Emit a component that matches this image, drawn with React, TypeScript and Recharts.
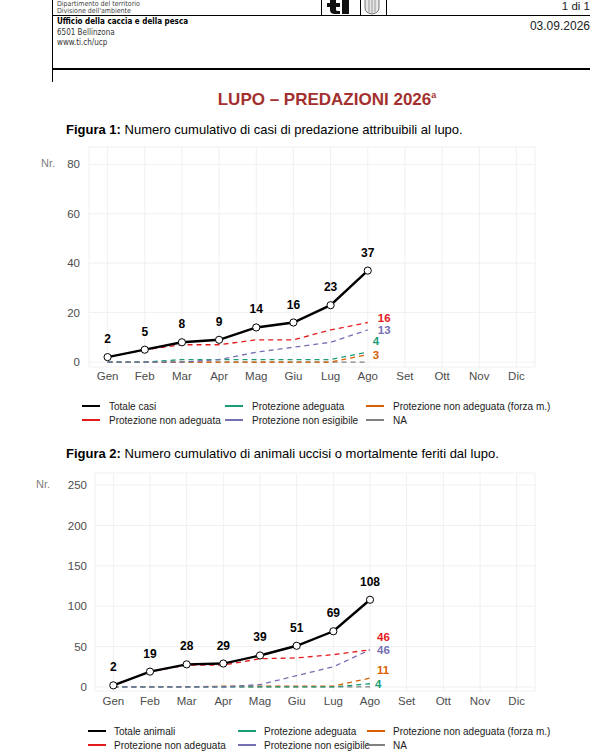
import React from "react";
import { LineChart, Line, XAxis, YAxis, CartesianGrid, LabelList } from "recharts";

const MONTHS = ["Gen", "Feb", "Mar", "Apr", "Mag", "Giu", "Lug", "Ago", "Set", "Ott", "Nov", "Dic"];

// Figura 1 – casi di predazione (cumulativo)
const CASI_TOTALE = [2, 5, 8, 9, 14, 16, 23, 37];
const CASI_NON_ADEGUATA = [2, 5, 7, 7, 9, 9, 13, 16];
const CASI_ADEGUATA = [0, 0, 1, 1, 1, 1, 1, 4];
const CASI_NON_ESIGIBILE = [0, 0, 0, 1, 4, 6, 8, 13];
const CASI_FORZA_M = [0, 0, 0, 0, 0, 0, 0, 3];
const CASI_NA = [0, 0, 0, 0, 0, 0, 0, 0];
const CASI_TICKS = [0, 20, 40, 60, 80];

// Figura 2 – animali uccisi o mortalmente feriti (cumulativo)
const ANIMALI_TOTALE = [2, 19, 28, 29, 39, 51, 69, 108];
const ANIMALI_NON_ADEGUATA = [2, 19, 27, 27, 35, 36, 40, 46];
const ANIMALI_ADEGUATA = [0, 0, 0, 0, 0, 0, 0, 4];
const ANIMALI_NON_ESIGIBILE = [0, 0, 0, 0, 3, 14, 25, 46];
const ANIMALI_FORZA_M = [0, 0, 0, 1, 1, 1, 1, 11];
const ANIMALI_NA = [0, 0, 0, 0, 0, 0, 0, 0];
const ANIMALI_TICKS = [0, 50, 100, 150, 200, 250];

const COLORS = {
  totale: "#000000",
  nonAdeguata: "#e41a1c",
  adeguata: "#1b9e77",
  forzaM: "#d95f02",
  nonEsigibile: "#7570b3",
  na: "#808080",
};

const FONT = '"Liberation Sans", Arial, sans-serif';
const NARROW = '"Liberation Sans Narrow", "DejaVu Sans Condensed", sans-serif';

type Row = Record<string, string | number | undefined>;

function buildRows(tot: number[], nonAd: number[], ad: number[], nonEs: number[], forza: number[], na: number[]): Row[] {
  return MONTHS.map((m, i) => ({
    month: m,
    totale: tot[i],
    nonAdeguata: nonAd[i],
    adeguata: ad[i],
    nonEsigibile: nonEs[i],
    forzaM: forza[i],
    na: na[i],
  }));
}

const rows1 = buildRows(CASI_TOTALE, CASI_NON_ADEGUATA, CASI_ADEGUATA, CASI_NON_ESIGIBILE, CASI_FORZA_M, CASI_NA);
const rows2 = buildRows(ANIMALI_TOTALE, ANIMALI_NON_ADEGUATA, ANIMALI_ADEGUATA, ANIMALI_NON_ESIGIBILE, ANIMALI_FORZA_M, ANIMALI_NA);

// nudges for the labels at the end of the dashed lines (repelled in the original)
type Nudge = { dx: number; dy: number };
const NUDGE_1: Record<string, Nudge> = {
  nonAdeguata: { dx: 10, dy: -5 },
  nonEsigibile: { dx: 10, dy: 0 },
  adeguata: { dx: 5, dy: -11 },
  forzaM: { dx: 5, dy: 0 },
};
const NUDGE_2: Record<string, Nudge> = {
  nonAdeguata: { dx: 7, dy: -13 },
  nonEsigibile: { dx: 7, dy: 0 },
  adeguata: { dx: 5, dy: 0 },
  forzaM: { dx: 7, dy: -8 },
};

const LAST = 7;

const totalLabel = (p: any) => {
  if (p.value == null) return null;
  return (
    <text x={p.x} y={p.y - 14} textAnchor="middle" fontFamily={FONT} fontSize={12} fontWeight="bold" fill="#000">
      {p.value}
    </text>
  );
};

const endLabel = (color: string, n: Nudge) => (p: any) => {
  if (p.index !== LAST || p.value == null) return null;
  return (
    <text x={p.x + n.dx} y={p.y + n.dy + 4} textAnchor="start" fontFamily={FONT} fontSize={11.5} fontWeight="bold" fill={color}>
      {p.value}
    </text>
  );
};

const dashedKeys: { key: keyof typeof COLORS }[] = [
  { key: "na" },
  { key: "forzaM" },
  { key: "adeguata" },
  { key: "nonEsigibile" },
  { key: "nonAdeguata" },
];

function Figure(props: {
  top: number;
  rows: Row[];
  yWidth: number;
  plotH: number;
  domain: [number, number];
  ticks: number[];
  tickMarginY: number;
  tickMarginX: number;
  nudges: Record<string, Nudge>;
}) {
  const { top, rows, yWidth, plotH, domain, ticks, tickMarginY, tickMarginX, nudges } = props;
  const plotW = 599 - yWidth - 64;
  const half = plotW / MONTHS.length / 2;
  return (
    <div style={{ position: "absolute", left: 0, top }}>
      <LineChart width={599} height={7 + plotH + 25} data={rows} margin={{ top: 7, right: 64, bottom: 0, left: 0 }}>
        <CartesianGrid stroke="#ececec" strokeWidth={0.8} />
        <XAxis
          dataKey="month"
          axisLine={false}
          tickLine={false}
          tickSize={4}
          tickMargin={tickMarginX}
          height={25}
          interval={0}
          padding={{ left: half, right: half }}
          tick={{ fontSize: 11.5, fill: "#4d4d4d", fontFamily: FONT }}
        />
        <YAxis
          type="number"
          domain={domain}
          ticks={ticks}
          allowDataOverflow
          axisLine={false}
          tickLine={false}
          tickSize={6}
          tickMargin={tickMarginY}
          width={yWidth}
          tick={{ fontSize: 11.5, fill: "#4d4d4d", fontFamily: FONT }}
        />
        {dashedKeys.map(({ key }) => (
          <Line
            key={key}
            dataKey={key}
            stroke={COLORS[key]}
            strokeWidth={1.3}
            strokeDasharray="5 4"
            dot={false}
            activeDot={false}
            isAnimationActive={false}
          >
            {nudges[key] && <LabelList dataKey={key} content={endLabel(COLORS[key], nudges[key])} />}
          </Line>
        ))}
        <Line
          dataKey="totale"
          stroke={COLORS.totale}
          strokeWidth={2.4}
          dot={{ r: 3.6, fill: "#fff", stroke: "#000", strokeWidth: 1 }}
          activeDot={false}
          isAnimationActive={false}
        >
          <LabelList dataKey="totale" content={totalLabel} />
        </Line>
      </LineChart>
    </div>
  );
}

function LegendBlock(props: { top: number; cols: number[]; textGap: number; totalLabel: string; rowGap: number }) {
  const { top, cols, textGap, totalLabel: first, rowGap } = props;
  const items: { label: string; color: string; col: number; row: number }[] = [
    { label: first, color: COLORS.totale, col: 0, row: 0 },
    { label: "Protezione non adeguata", color: COLORS.nonAdeguata, col: 0, row: 1 },
    { label: "Protezione adeguata", color: COLORS.adeguata, col: 1, row: 0 },
    { label: "Protezione non esigibile", color: COLORS.nonEsigibile, col: 1, row: 1 },
    { label: "Protezione non adeguata (forza m.)", color: COLORS.forzaM, col: 2, row: 0 },
    { label: "NA", color: COLORS.na, col: 2, row: 1 },
  ];
  return (
    <>
      {items.map((it) => (
        <div
          key={it.label}
          style={{
            position: "absolute",
            left: cols[it.col],
            top: top + it.row * rowGap - 7,
            height: 14,
            display: "flex",
            alignItems: "center",
            fontFamily: FONT,
            fontSize: 10,
            color: "#1a1a1a",
            whiteSpace: "nowrap",
          }}
        >
          <span style={{ display: "inline-block", width: 18, height: 2, background: it.color, marginRight: textGap }} />
          {it.label}
        </div>
      ))}
    </>
  );
}

export default function App() {
  const abs = (s: React.CSSProperties): React.CSSProperties => ({ position: "absolute", ...s });
  return (
    <div style={{ position: "absolute", left: 0, top: 0, width: 599, height: 753, background: "#fff", overflow: "hidden" }}>
      {/* header of the page */}
      <div style={abs({ left: 52, top: 0, width: 1, height: 82, background: "#000" })} />
      <div style={abs({ left: 52, top: 15, width: 538, height: 1, background: "#000" })} />
      <div style={abs({ left: 52, top: 68, width: 538, height: 1.5, background: "#000" })} />
      <div style={abs({ left: 321, top: 0, width: 1, height: 15, background: "#000" })} />
      <div style={abs({ left: 360, top: 0, width: 1, height: 15, background: "#000" })} />
      <div style={abs({ left: 386, top: 0, width: 1, height: 15, background: "#000" })} />
      {/* cantonal logo */}
      <svg style={abs({ left: 326, top: 0 })} width={30} height={15}>
        <path d="M4 0 H10 V3 H14 V7 H10 V10 Q10 11 12 11 H14 V14 H9 Q4 14 4 10 V7 H1 V3 H4 Z" fill="#111" />
        <rect x={16} y={0} width={7} height={14} fill="#111" />
      </svg>
      <svg style={abs({ left: 363, top: 0 })} width={18} height={15}>
        <path d="M2 0 V8 Q2 13 9 14 Q16 13 16 8 V0" fill="#e6e6e6" stroke="#777" strokeWidth={1} />
        <line x1={6} y1={0} x2={6} y2={12} stroke="#999" />
        <line x1={9} y1={0} x2={9} y2={13} stroke="#999" />
        <line x1={12} y1={0} x2={12} y2={12} stroke="#999" />
      </svg>
      <div style={abs({ left: 57, top: 1, fontFamily: NARROW, fontSize: 7, color: "#444", lineHeight: "7px" })}>
        Dipartimento del territorio
        <br />
        Divisione dell'ambiente
      </div>
      <div style={abs({ left: 57, top: 17, fontFamily: NARROW, fontSize: 8, color: "#333", lineHeight: "10.5px" })}>
        <b style={{ color: "#000" }}>Ufficio della caccia e della pesca</b>
        <br />
        6501 Bellinzona
        <br />
        www.ti.ch/ucp
      </div>
      <div style={abs({ right: 9, top: 0, fontFamily: FONT, fontSize: 11.5, lineHeight: "13px", color: "#222" })}>1 di 1</div>
      <div style={abs({ right: 9, top: 19, fontFamily: FONT, fontSize: 12, color: "#222" })}>03.09.2026</div>

      {/* title */}
      <div style={abs({ left: 0, width: 654, top: 90, textAlign: "center", fontFamily: FONT, fontWeight: "bold", fontSize: 17, color: "#a3302f" })}>
        LUPO – PREDAZIONI 2026<sup style={{ fontSize: 9 }}>a</sup>
      </div>

      {/* Figura 1 */}
      <div style={abs({ left: 66, top: 122, fontFamily: FONT, fontSize: 13, color: "#000", whiteSpace: "nowrap" })}>
        <b>Figura 1:</b> Numero cumulativo di casi di predazione attribuibili al lupo.
      </div>
      <div style={abs({ left: 41, top: 157, fontFamily: FONT, fontSize: 11, color: "#808080" })}>Nr.</div>
      <Figure
        top={140}
        rows={rows1}
        yWidth={89}
        plotH={220}
        domain={[-2, 87]}
        ticks={CASI_TICKS}
        tickMarginY={3}
        tickMarginX={1}
        nudges={NUDGE_1}
      />
      <LegendBlock top={406} cols={[82, 225, 366]} textGap={9} totalLabel="Totale casi" rowGap={14} />

      {/* Figura 2 */}
      <div style={abs({ left: 66, top: 446, fontFamily: FONT, fontSize: 13, color: "#000", whiteSpace: "nowrap" })}>
        <b>Figura 2:</b> Numero cumulativo di animali uccisi o mortalmente feriti dal lupo.
      </div>
      <div style={abs({ left: 36, top: 478, fontFamily: FONT, fontSize: 11, color: "#808080" })}>Nr.</div>
      <Figure
        top={466}
        rows={rows2}
        yWidth={95}
        plotH={218}
        domain={[-5, 265]}
        ticks={ANIMALI_TICKS}
        tickMarginY={2}
        tickMarginX={2}
        nudges={NUDGE_2}
      />
      <LegendBlock top={731} cols={[88, 238, 367]} textGap={8} totalLabel="Totale animali" rowGap={14} />
    </div>
  );
}
